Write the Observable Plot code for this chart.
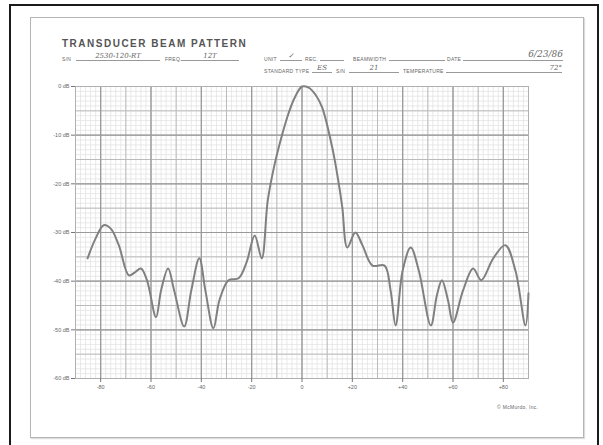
<!DOCTYPE html>
<html>
<head>
<meta charset="utf-8">
<script src="https://cdn.jsdelivr.net/npm/d3@7"></script>
<script src="https://cdn.jsdelivr.net/npm/@observablehq/plot@0.6"></script>
<style>
  html, body { margin: 0; padding: 0; background: #fff; }
  #page { position: relative; width: 603px; height: 445px; overflow: hidden; font-family: "Liberation Sans", Arial, sans-serif; color: #555; }
  #outer { position: absolute; left: 9px; top: 4px; width: 586px; height: 450px; border: 2px solid #1a1a1a; }
  #paper { position: absolute; left: 30px; top: 17px; width: 552px; height: 419px; border: 1px solid #b5b5b5; box-shadow: 1px 1px 1px #ddd; }
  #chart { position: absolute; left: 0; top: 0; }
  .t { position: absolute; white-space: nowrap; font-size: 5px; color: #666; letter-spacing: 0.3px; }
  .title { position: absolute; left: 62px; top: 38px; font-size: 10px; font-weight: bold; color: #555; letter-spacing: 1.5px; }
  .hw { position: absolute; font-family: "DejaVu Serif", serif; font-style: italic; font-size: 7px; color: #666; border-bottom: 1px solid #999; text-align: center; line-height: 8px; }
</style>
</head>
<body>
<div id="page">
  <div id="outer"></div>
  <div id="paper"></div>
  <div class="title">TRANSDUCER BEAM PATTERN</div>

  <div class="t" style="left:62px;top:56px">S/N</div>
  <div class="hw" style="left:76px;top:52px;width:84px">2530-120-RT</div>
  <div class="t" style="left:165px;top:56px">FREQ.</div>
  <div class="hw" style="left:181px;top:52px;width:58px">12T</div>

  <div class="t" style="left:264px;top:56px">UNIT</div>
  <div class="hw" style="left:280px;top:52px;width:22px">✓</div>
  <div class="t" style="left:305px;top:56px">REC.</div>
  <div class="hw" style="left:320px;top:52px;width:24px">&nbsp;</div>
  <div class="t" style="left:353px;top:56px">BEAMWIDTH</div>
  <div class="hw" style="left:389px;top:52px;width:56px">&nbsp;</div>
  <div class="t" style="left:447px;top:56px">DATE</div>
  <div class="hw" style="left:463px;top:49px;width:100px;font-size:9px;line-height:11px;text-align:right">6/23/86</div>

  <div class="t" style="left:264px;top:68px">STANDARD TYPE</div>
  <div class="hw" style="left:312px;top:64px;width:20px">ES</div>
  <div class="t" style="left:336px;top:68px">S/N</div>
  <div class="hw" style="left:349px;top:64px;width:50px">21</div>
  <div class="t" style="left:403px;top:68px">TEMPERATURE</div>
  <div class="hw" style="left:446px;top:64px;width:116px;text-align:right">72°</div>

  <div class="t" style="left:497px;top:404px">© McMurdo, Inc.</div>
  <div id="chart"></div>
</div>
<script>
// Measured beam pattern: relative response (dB) against bearing (degrees)
const angleDeg = [-85.2, -82, -78.8, -76, -72.8, -68.8, -66.4, -64, -61.6, -58, -56, -53.2, -50.8, -46.8, -44, -40.8, -38.4, -35.2, -32.8, -29.2, -25.2, -22, -18.8, -16, -13.6, -10.8, -8, -5.2, -3, 0, 2.5, 5.5, 8, 12, 14.4, 16, 18, 21.2, 24, 28, 32.8, 35.2, 37.2, 40, 43.2, 46.4, 51.2, 53.6, 55.6, 58, 60, 64, 68, 71.2, 76, 80.8, 84.8, 88.8, 90];
const levelDb = [-35.3, -31.2, -28.5, -29.2, -32.6, -38.8, -38.2, -37.4, -39.8, -47.4, -41.9, -37.4, -41.9, -49.3, -41.9, -35.3, -41.9, -49.7, -43.9, -39.8, -39.4, -36.1, -30.6, -35.3, -23.4, -15.8, -10.1, -5.3, -2.4, 0, -0.2, -1.8, -4.3, -12.5, -19.3, -24.8, -33.1, -30, -32.6, -36.8, -36.8, -41.9, -49.1, -37.8, -33.1, -37.8, -49.1, -42.9, -39.8, -43.9, -48.5, -41.9, -37.4, -39.8, -35.3, -32.6, -37.8, -49.1, -42.5];

// Axis tick values and labels
const xTicks = [-80, -60, -40, -20, 0, 20, 40, 60, 80];
const xTickLabels = ["-80", "-60", "-40", "-20", "0", "+20", "+40", "+60", "+80"];
const yTicks = [0, -10, -20, -30, -40, -50, -60];
const yTickLabels = ["0 dB", "-10 dB", "-20 dB", "-30 dB", "-40 dB", "-50 dB", "-60 dB"];

const pattern = angleDeg.map((a, i) => ({angle: a, level: levelDb[i]}));

// Graph-paper rulings
const minorX = d3.range(-90, 90.1, 2);
const midX = d3.range(-90, 90.1, 10);
const majorX = d3.range(-80, 80.1, 20);
const minorY = d3.range(-60, 0.1, 1);
const midY = d3.range(-60, 0.1, 5);
const majorY = d3.range(-60, 0.1, 10);

const chart = Plot.plot({
  width: 603,
  height: 445,
  marginLeft: 75,
  marginRight: 75,
  marginTop: 86,
  marginBottom: 67,
  style: {fontFamily: "Liberation Sans, Arial, sans-serif", fontSize: "5.5px", color: "#555", background: "transparent"},
  x: {domain: [-90, 90]},
  y: {domain: [-60, 0]},
  marks: [
    Plot.ruleX(minorX, {stroke: "#e3e3e3", strokeWidth: 0.8}),
    Plot.ruleY(minorY, {stroke: "#e3e3e3", strokeWidth: 0.8}),
    Plot.ruleX(midX, {stroke: "#bbbbbb", strokeWidth: 1}),
    Plot.ruleY(midY, {stroke: "#bbbbbb", strokeWidth: 1}),
    Plot.ruleX(majorX, {stroke: "#999999", strokeWidth: 1.2}),
    Plot.ruleY(majorY, {stroke: "#999999", strokeWidth: 1.2}),
    Plot.frame({stroke: "#b0b0b0"}),
    Plot.axisX({ticks: xTicks, tickFormat: d => xTickLabels[xTicks.indexOf(d)], tickSize: 4, tickPadding: 3, label: null, stroke: "#777", fill: "#666"}),
    Plot.axisY({ticks: yTicks, tickFormat: d => yTickLabels[yTicks.indexOf(d)], tickSize: 4, tickPadding: 2, label: null, stroke: "#777", fill: "#666"}),
    Plot.line(pattern, {x: "angle", y: "level", stroke: "#808080", strokeWidth: 2, curve: "catmull-rom"})
  ]
});
document.getElementById("chart").appendChild(chart);
</script>
</body>
</html>
